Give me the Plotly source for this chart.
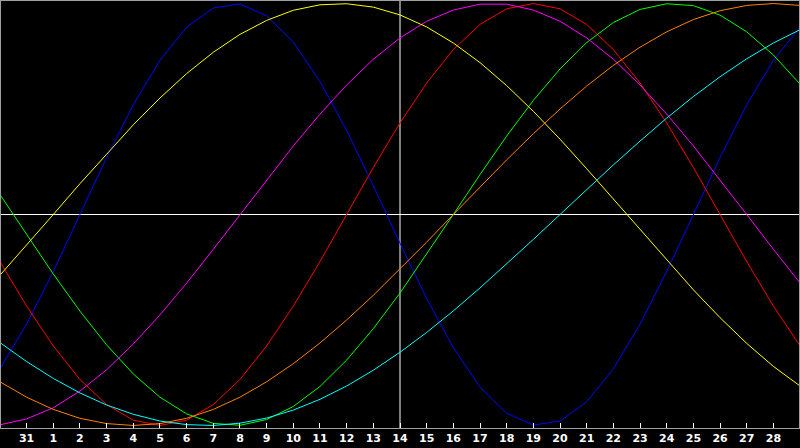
import plotly.graph_objects as go

# day positions along the chart (31 of last month, then 1..28), plus one extra at each edge
days = list(range(-1, 30))
tick_pos = list(range(0, 29))
tick_labels = ["31"] + [str(d) for d in range(1, 29)]

physical = [-0.731, -0.520, -0.270, 0.000, 0.270, 0.520, 0.731, 0.888, 0.979, 0.998,
            0.942, 0.817, 0.631, 0.398, 0.136, -0.136, -0.398, -0.631, -0.817, -0.942,
            -0.998, -0.979, -0.888, -0.731, -0.520, -0.270, 0.000, 0.270, 0.520, 0.731, 0.888]
emotional = [-0.223, -0.434, -0.623, -0.782, -0.901, -0.975, -1.000, -0.975, -0.901, -0.782,
             -0.623, -0.434, -0.223, 0.000, 0.223, 0.434, 0.623, 0.782, 0.901, 0.975,
             1.000, 0.975, 0.901, 0.782, 0.623, 0.434, 0.223, 0.000, -0.223, -0.434, -0.623]
intellectual = [0.095, -0.095, -0.282, -0.458, -0.618, -0.756, -0.866, -0.945, -0.990, -0.999,
                -0.972, -0.910, -0.815, -0.690, -0.541, -0.372, -0.189, 0.000, 0.189, 0.372,
                0.541, 0.690, 0.815, 0.910, 0.972, 0.999, 0.990, 0.945, 0.866, 0.756, 0.618]
intuitive = [-0.997, -0.969, -0.916, -0.837, -0.736, -0.614, -0.476, -0.325, -0.165, 0.000,
             0.165, 0.325, 0.476, 0.614, 0.736, 0.837, 0.916, 0.969, 0.997, 0.997,
             0.969, 0.916, 0.837, 0.736, 0.614, 0.476, 0.325, 0.165, 0.000, -0.165, -0.325]
aesthetic = [-0.288, -0.146, 0.000, 0.146, 0.288, 0.425, 0.552, 0.668, 0.769, 0.854,
             0.920, 0.968, 0.994, 0.999, 0.983, 0.946, 0.889, 0.813, 0.720, 0.611,
             0.489, 0.357, 0.217, 0.073, -0.073, -0.217, -0.357, -0.489, -0.611, -0.720, -0.813]
awareness = [-0.793, -0.866, -0.924, -0.966, -0.991, -1.000, -0.991, -0.966, -0.924, -0.866,
             -0.793, -0.707, -0.609, -0.500, -0.383, -0.259, -0.131, 0.000, 0.131, 0.259,
             0.383, 0.500, 0.609, 0.707, 0.793, 0.866, 0.924, 0.966, 0.991, 1.000, 0.991]
spiritual = [-0.607, -0.697, -0.777, -0.846, -0.903, -0.947, -0.979, -0.996, -1.000, -0.989,
             -0.965, -0.927, -0.876, -0.813, -0.738, -0.653, -0.559, -0.457, -0.348, -0.235,
             -0.118, 0.000, 0.118, 0.235, 0.348, 0.457, 0.559, 0.653, 0.738, 0.813, 0.876]

series = [
    ("physical", physical, "#0000ff"),
    ("emotional", emotional, "#ff0000"),
    ("intellectual", intellectual, "#00ff00"),
    ("intuitive", intuitive, "#ff00ff"),
    ("aesthetic", aesthetic, "#ffff00"),
    ("awareness", awareness, "#ff8000"),
    ("spiritual", spiritual, "#00ffff"),
]

fig = go.Figure()
for name, vals, col in series:
    fig.add_trace(go.Scatter(
        x=days, y=vals, mode="lines", name=name,
        line=dict(color=col, width=1),
    ))

# crosshair: today and the zero line
fig.add_shape(type="line", xref="x", yref="paper", x0=14, x1=14, y0=0, y1=1,
              line=dict(color="white", width=1), layer="below")
fig.add_shape(type="line", xref="paper", yref="y", x0=0, x1=1, y0=0, y1=0,
              line=dict(color="white", width=1), layer="below")

fig.update_xaxes(
    range=[-0.96, 28.96], tickmode="array", tickvals=tick_pos, ticktext=tick_labels,
    ticks="inside", ticklen=5, tickcolor="white", tickwidth=1,
    tickfont=dict(family="DejaVu Sans", size=11, color="white", weight="bold"),
    showgrid=False, zeroline=False,
    showline=True, linecolor="#a0a0a0", linewidth=1, mirror=True,
)
fig.update_yaxes(
    range=[-1.012, 1.012], showticklabels=False, ticks="",
    showgrid=False, zeroline=False,
    showline=True, linecolor="#a0a0a0", linewidth=1, mirror=True,
)

fig.update_layout(
    width=800, height=448,
    margin=dict(l=1, r=1, t=1, b=20),
    paper_bgcolor="black", plot_bgcolor="black",
    showlegend=False,
)

# drop the page's default body margin so the chart sits at the window's corner
fig.write_html("out.html", config={"displayModeBar": False},
               post_script="document.body.style.margin='0';")
